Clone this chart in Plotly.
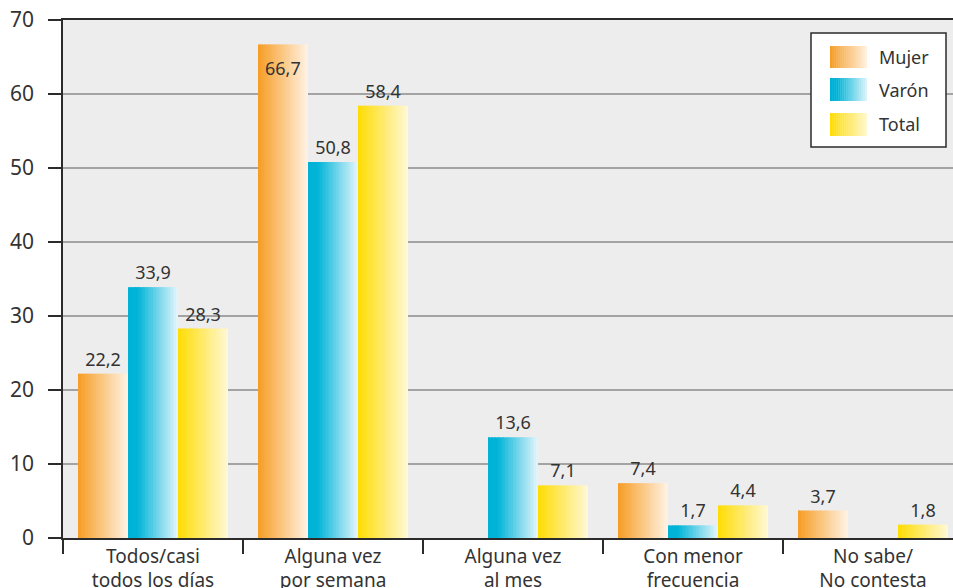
import plotly.graph_objects as go

# Frecuencia por sexo (%)
categorias = [
    "Todos/casi<br>todos los días",
    "Alguna vez<br>por semana",
    "Alguna vez<br>al mes",
    "Con menor<br>frecuencia",
    "No sabe/<br>No contesta",
]
mujer = [22.2, 66.7, None, 7.4, 3.7]
varon = [33.9, 50.8, 13.6, 1.7, None]
total = [28.3, 58.4, 7.1, 4.4, 1.8]
nombres = ["Mujer", "Varón", "Total"]
y_ticks = [0, 10, 20, 30, 40, 50, 60, 70]

series = [mujer, varon, total]

# horizontal gradient stops for each series (position, rgb)
degradados = [
    [(0.0, (246, 156, 34)), (1.0, (255, 242, 228))],
    [(0.0, (0, 177, 214)), (0.2, (0, 180, 216)), (1.0, (226, 245, 251))],
    [(0.0, (255, 220, 0)), (1.0, (255, 248, 212))],
]


def color_en(stops, t):
    for (p0, c0), (p1, c1) in zip(stops, stops[1:]):
        if t <= p1:
            f = (t - p0) / (p1 - p0) if p1 > p0 else 0
            c = [round(a + (b - a) * f) for a, b in zip(c0, c1)]
            return "rgb(%d,%d,%d)" % tuple(c)
    return "rgb(%d,%d,%d)" % stops[-1][1]


GRUPO = 150 / 180          # width of a group of three bars, in category units
ANCHO = GRUPO / 3          # single bar width
TIRAS = 32                 # vertical strips used to paint the gradient
TEXTO = "#333333"
FUENTE = "Noto Sans"
PX_CAT = 180               # pixels per category on the x axis
LIMITE_DENTRO = 65         # labels of taller bars go inside the bar top

fig = go.Figure()

for s, valores in enumerate(series):
    izq = -GRUPO / 2 + s * ANCHO
    paso = ANCHO / TIRAS
    for k in range(TIRAS):
        ancho = paso * (1.2 if k < TIRAS - 1 else 1.0)
        fig.add_trace(go.Bar(
            x=categorias, y=valores,
            width=[ancho] * len(categorias),
            offset=izq + k * paso,
            marker=dict(color=color_en(degradados[s], (k + 0.5) / TIRAS), line=dict(width=0)),
            showlegend=False, hoverinfo="skip",
        ))

annotations = []

# value labels
for s, valores in enumerate(series):
    izq = -GRUPO / 2 + s * ANCHO
    textos = []
    for c, v in zip(categorias, valores):
        if v is not None and v > LIMITE_DENTRO:
            textos.append("")
            annotations.append(dict(
                x=c, y=v, xref="x", yref="y", showarrow=False,
                text=f"{v:.1f}".replace(".", ","),
                xshift=(izq + ANCHO / 2) * PX_CAT, yshift=-10,
                xanchor="center", yanchor="top",
                font=dict(family=FUENTE, size=18, color=TEXTO)))
        elif v is None:
            textos.append("")
        else:
            textos.append(f"{v:.1f}".replace(".", ","))
    fig.add_trace(go.Bar(
        x=categorias, y=valores,
        width=[ANCHO] * len(categorias), offset=izq,
        marker=dict(color="rgba(0,0,0,0)", line=dict(width=0)),
        text=textos, textposition="outside",
        constraintext="none", cliponaxis=False,
        textfont=dict(family=FUENTE, size=18, color=TEXTO),
        showlegend=False, hoverinfo="skip", name=nombres[s],
    ))

# legend box drawn in paper coordinates
W_PLOT, H_PLOT, L, T = 890, 518, 63, 20


def px(x):
    return (x - L) / W_PLOT


def py(y):
    return (T + H_PLOT - y) / H_PLOT


shapes = [dict(type="rect", xref="paper", yref="paper",
               x0=px(811), x1=px(946), y0=py(147), y1=py(33),
               fillcolor="white", line=dict(color="#2b2b2b", width=1.5), layer="above")]
filas = [(46, 68), (78, 101), (113, 136)]
pasos_ley = 18
for s, (ya, yb) in enumerate(filas):
    x0, x1 = 830, 867
    w = (x1 - x0) / pasos_ley
    for k in range(pasos_ley):
        shapes.append(dict(type="rect", xref="paper", yref="paper",
                           x0=px(x0 + k * w), x1=px(x0 + (k + 1) * w + (0.4 if k < pasos_ley - 1 else 0)),
                           y0=py(yb), y1=py(ya),
                           fillcolor=color_en(degradados[s], (k + 0.5) / pasos_ley),
                           line=dict(width=0), layer="above"))
    annotations.append(dict(xref="paper", yref="paper", x=px(877), y=py((ya + yb) / 2),
                            text=nombres[s], showarrow=False, xanchor="left", yanchor="middle",
                            font=dict(family=FUENTE, size=18, color=TEXTO)))

fig.update_layout(
    width=953, height=588,
    margin=dict(l=L, r=0, t=T, b=50, autoexpand=False),
    paper_bgcolor="white", plot_bgcolor="#EDEDED",
    barmode="overlay", separators=",.",
    showlegend=False,
    shapes=shapes, annotations=annotations,
    font=dict(family=FUENTE, color=TEXTO),
)
fig.update_xaxes(
    type="category", range=[-0.5, 4.5 - 10 / 180], automargin=False,
    showline=True, linecolor="#2b2b2b", linewidth=1.5, mirror=True,
    ticks="outside", tickson="boundaries", ticklen=14, tickwidth=1.5, tickcolor="#2b2b2b",
    tickfont=dict(family=FUENTE, size=19, color=TEXTO),
    showgrid=False,
)
fig.update_yaxes(
    range=[0, 70], tickvals=y_ticks, automargin=False,
    showline=True, linecolor="#2b2b2b", linewidth=1.5,
    ticks="outside", ticklen=13, tickwidth=1.5, tickcolor="#2b2b2b",
    ticklabelstandoff=10,
    tickfont=dict(family=FUENTE, size=21, color=TEXTO),
    showgrid=True, gridcolor="#A3A3A3", gridwidth=1.5, zeroline=False,
)

fig.write_html("out.html")
